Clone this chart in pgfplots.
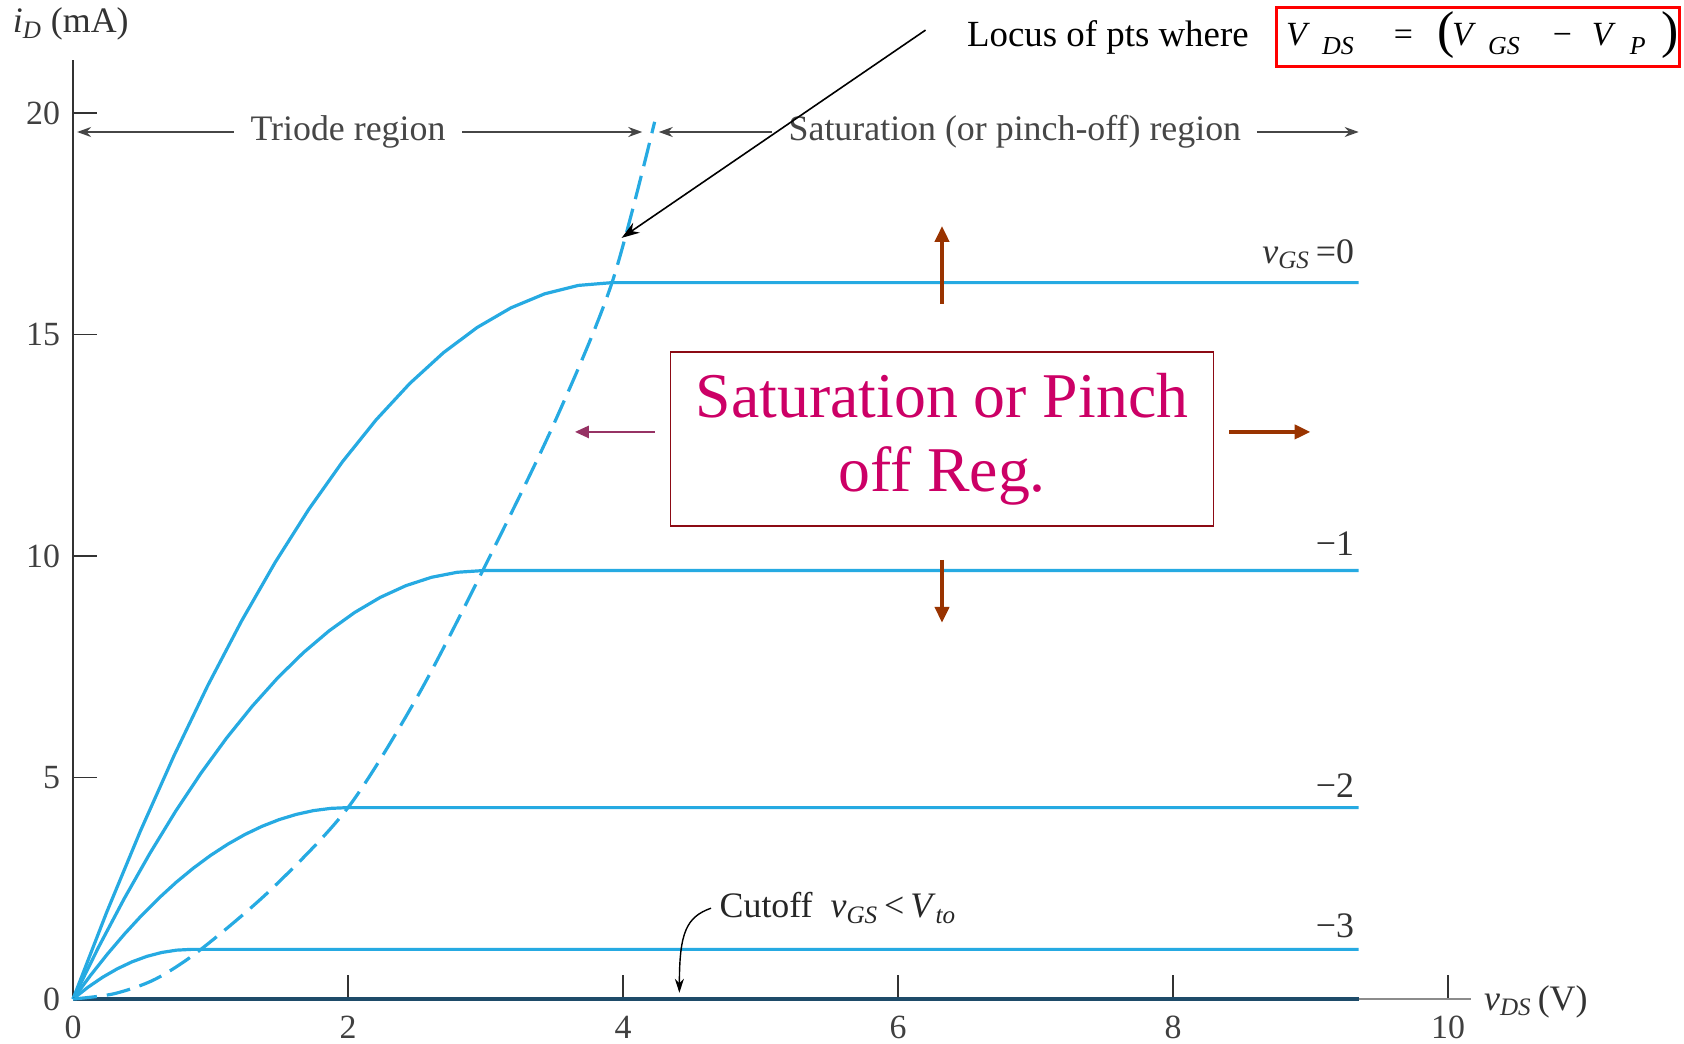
\documentclass[border=0pt]{standalone}
\usepackage{fontspec}
\setmainfont{Liberation Serif}
\usepackage{pgfplots}
\pgfplotsset{compat=1.18}
\usetikzlibrary{arrows.meta}
\definecolor{cur}{RGB}{38,170,226}
\definecolor{dkb}{RGB}{30,75,105}
\definecolor{brn}{RGB}{153,51,0}
\definecolor{plum}{RGB}{150,50,100}
\definecolor{mag}{RGB}{204,0,102}
\definecolor{boxr}{RGB}{140,10,20}
\definecolor{lab}{RGB}{70,70,70}
\newcommand{\fs}[1]{\fontsize{#1}{#1}\selectfont}
\begin{document}
\begin{tikzpicture}
\useasboundingbox (-36.5bp,-22.5bp) rectangle (805.5bp,499.5bp);
\begin{axis}[
  at={(0,0)}, anchor=origin,
  scale only axis, width=699.2bp, height=469.6bp,
  xmin=0, xmax=10.17, ymin=0, ymax=21.2,
  axis lines=left,
  x axis line style={-, draw=black!45, line width=0.9bp},
  y axis line style={-, draw=black!80, line width=0.9bp},
  xtick={0,2,...,10}, ytick={0,5,...,20},
  tick align=inside, major tick length=12bp,
  tick style={draw=black!80, line width=0.8bp},
  ticklabel style={font=\fs{17}, text=black!75},
  /pgf/number format/assume math mode=true,
  yticklabel style={xshift=-3bp},
  xticklabel style={yshift=-5bp},
  clip=false,
]
% v_GS = 0
\addplot[cur, line width=1.6bp, line join=round] coordinates {(0,0)(0.245,1.958)(0.49,3.790)(0.735,5.495)(0.98,7.074)(1.225,8.527)(1.47,9.854)(1.715,11.054)(1.96,12.128)(2.205,13.075)(2.45,13.896)(2.695,14.591)(2.94,15.159)(3.185,15.601)(3.43,15.917)(3.675,16.107)(3.92,16.17)(9.35,16.17)};
% v_GS = -1
\addplot[cur, line width=1.6bp, line join=round] coordinates {(0,0)(0.186,1.171)(0.3725,2.266)(0.559,3.286)(0.745,4.231)(0.931,5.099)(1.1175,5.893)(1.304,6.610)(1.49,7.253)(1.676,7.819)(1.8625,8.310)(2.049,8.726)(2.235,9.066)(2.421,9.330)(2.6075,9.519)(2.794,9.632)(2.98,9.67)(9.35,9.67)};
% v_GS = -2
\addplot[cur, line width=1.6bp, line join=round] coordinates {(0,0)(0.125,0.523)(0.25,1.013)(0.375,1.468)(0.5,1.890)(0.625,2.278)(0.75,2.633)(0.875,2.953)(1.0,3.240)(1.125,3.493)(1.25,3.713)(1.375,3.898)(1.5,4.050)(1.625,4.168)(1.75,4.253)(1.875,4.303)(2.0,4.32)(9.35,4.32)};
% v_GS = -3
\addplot[cur, line width=1.6bp, line join=round] coordinates {(0,0)(0.1075,0.2625)(0.215,0.49)(0.3225,0.6825)(0.43,0.84)(0.5375,0.9625)(0.645,1.05)(0.7525,1.1025)(0.86,1.12)(9.35,1.12)};
% cutoff
\addplot[dkb, line width=1.6bp] coordinates {(0,0)(9.35,0)};
% locus
\addplot[cur, line width=1.6bp, dash pattern=on 12bp off 5bp, smooth] coordinates {(0,0)(0.3,0.12)(0.6,0.45)(0.93,1.12)(1.45,2.5)(2.0,4.32)(2.5,6.8)(2.98,9.67)(3.5,13.0)(3.92,16.17)(4.23,19.8)};

% axis labels
\node[font=\fs{18}, anchor=west, inner sep=0, text=black!80] at (-0.44,22.0) {\textit{i}\textsubscript{\textit{D}} (mA)};
\node[font=\fs{18}, anchor=base west, inner sep=0, text=black!80] at (10.26,-0.25) {\textit{v}\textsubscript{\textit{DS}}\,(V)};

% region labels
\node[font=\fs{18}, inner sep=0, text=lab] at (2.0,19.57) {Triode region};
\draw[lab, line width=0.9bp, -{Stealth[length=7bp,width=5bp]}] (1.17,19.57) -- (0.03,19.57);
\draw[lab, line width=0.9bp, -{Stealth[length=7bp,width=5bp]}] (2.83,19.57) -- (4.14,19.57);
\node[font=\fs{18}, inner sep=0, text=lab] at (6.85,19.57) {Saturation (or pinch-off) region};
\draw[lab, line width=0.9bp, -{Stealth[length=7bp,width=5bp]}] (5.08,19.57) -- (4.26,19.57);
\draw[lab, line width=0.9bp, -{Stealth[length=7bp,width=5bp]}] (8.61,19.57) -- (9.35,19.57);

% curve labels
\node[font=\fs{18}, anchor=base east, inner sep=0, text=black!80] at (9.32,16.6) {\textit{v}\textsubscript{\textit{GS}}\,=0};
\node[font=\fs{18}, anchor=base east, inner sep=0, text=black!80] at (9.32,10.0) {−1};
\node[font=\fs{18}, anchor=base east, inner sep=0, text=black!80] at (9.32,4.54) {−2};
\node[font=\fs{18}, anchor=base east, inner sep=0, text=black!80] at (9.32,1.38) {−3};

% cutoff label
\node[font=\fs{18}, anchor=base west, inner sep=0, text=black!85] at (4.70,1.83) {Cutoff\ \ \textit{v}\textsubscript{\textit{GS}}\,<\,\textit{V}\textsubscript{\textit{to}}};
\draw[black, line width=0.7bp, -{Stealth[length=7bp,width=4.5bp]}] (4.64,2.05) .. controls (4.46,1.85) and (4.41,1.5) .. (4.41,0.14);

% locus label and arrow
\node[font=\fs{18.5}, anchor=base west, inner sep=0] at (6.50,21.51) {Locus of pts where};
\draw[black, line width=0.8bp, -{Stealth[length=9bp,width=6bp]}] (6.20,21.87) -- (3.99,17.18);

% red box formula
\draw[red, line width=1.5bp] (8.75,21.05) rectangle (11.68,22.38);
\node[anchor=base west, inner sep=0] at (8.82,21.53) {\fs{17}\textit{V}\hspace{6bp}\raisebox{-4.9bp}{\fs{13}\textit{DS}}\hspace{20bp}=\hspace{12.5bp}\raisebox{-1.3bp}{\fs{26}(}\hspace{-1.5bp}\textit{V}\hspace{6bp}\raisebox{-4.9bp}{\fs{13}\textit{GS}}\hspace{16.5bp}−\hspace{10bp}\textit{V}\hspace{7bp}\raisebox{-4.9bp}{\fs{13}\textit{P}}\hspace{8bp}\raisebox{-1.3bp}{\fs{26})}};

% saturation box
\node[draw=boxr, line width=0.9bp, minimum width=271.5bp, minimum height=87bp, align=center, text=mag, font=\fontsize{32}{37}\selectfont, inner sep=0] at (6.32,12.64) {Saturation or Pinch\\off Reg.};
\draw[brn, line width=2bp, -{Triangle[length=8bp,width=7bp]}] (6.32,15.69) -- (6.32,17.45);
\draw[brn, line width=2bp, -{Triangle[length=8bp,width=7bp]}] (6.32,9.91) -- (6.32,8.49);
\draw[brn, line width=2bp, -{Triangle[length=8bp,width=7bp]}] (8.41,12.8) -- (9.0,12.8);
\draw[plum, line width=1.3bp, -{Triangle[length=7bp,width=6bp]}] (4.23,12.8) -- (3.65,12.8);
\end{axis}
\end{tikzpicture}
\end{document}
